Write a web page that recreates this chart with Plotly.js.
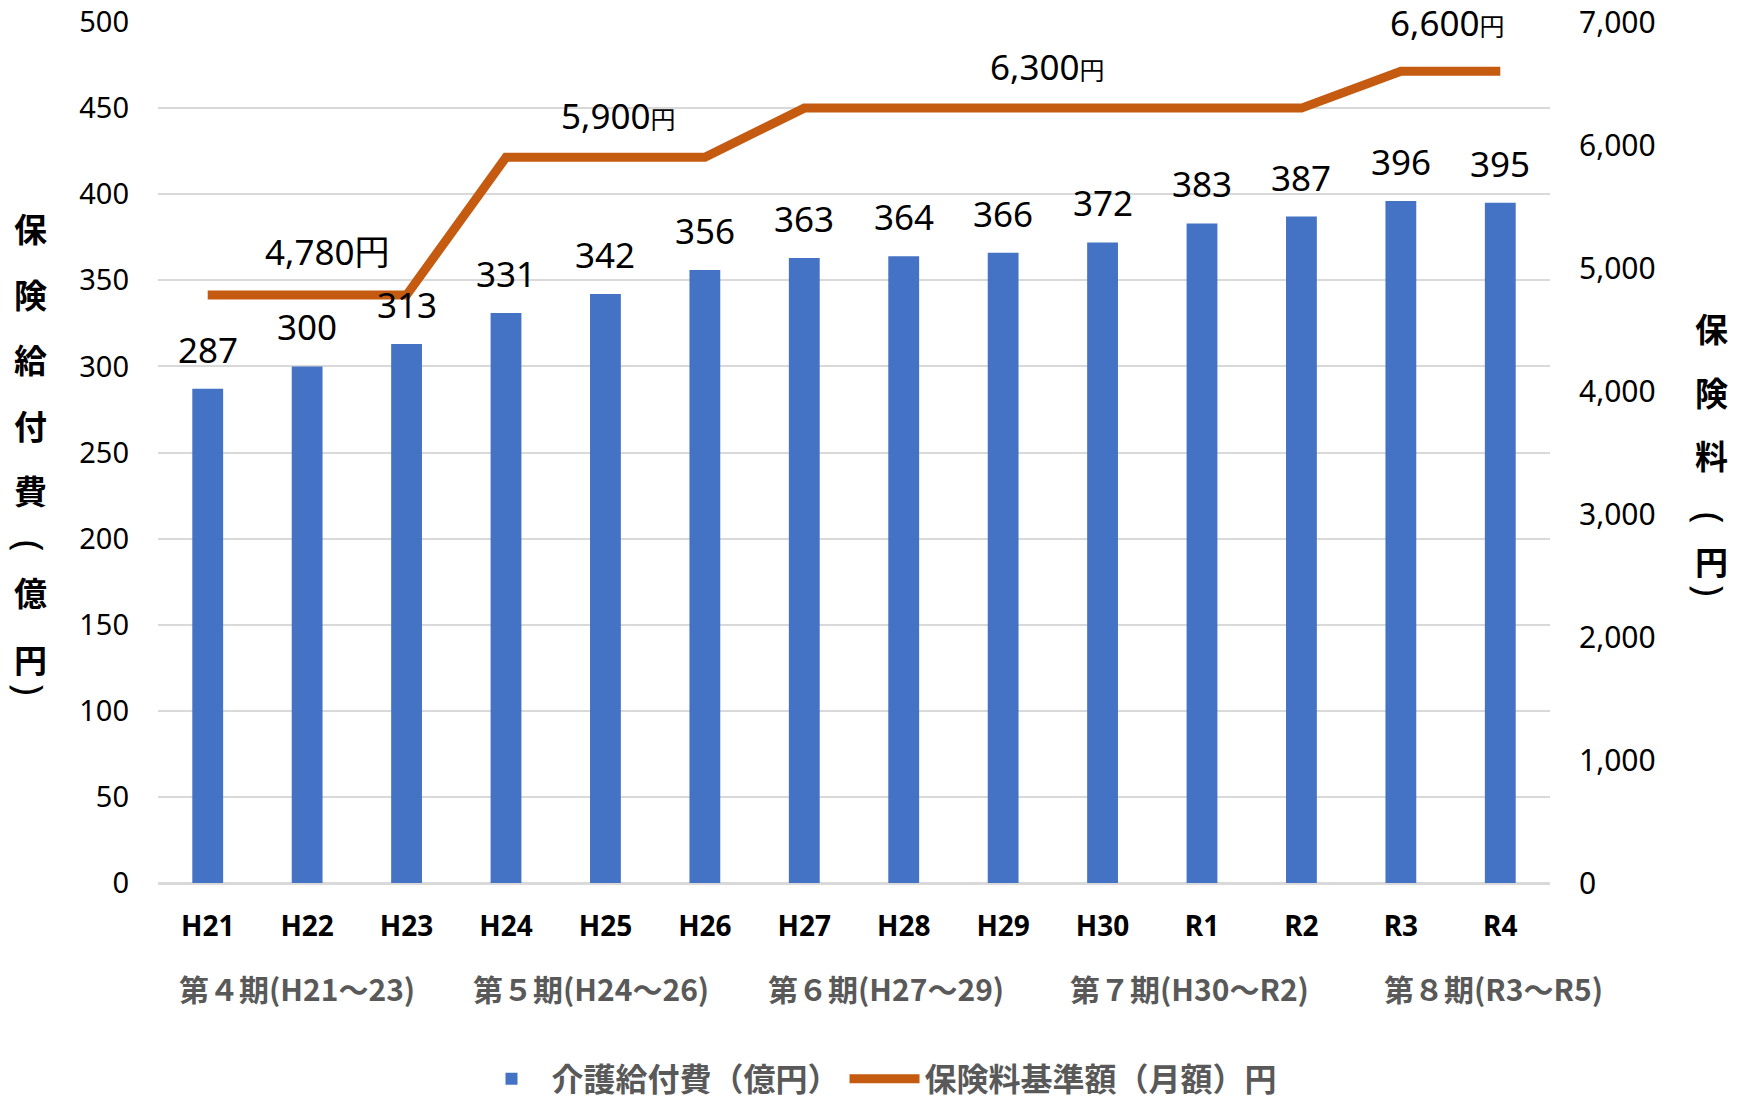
<!DOCTYPE html>
<html>
<head>
<meta charset="utf-8">
<script src="https://cdn.plot.ly/plotly-3.0.1.min.js"></script>
<style>html,body{margin:0;padding:0;background:#fff;}#chart{width:1742px;height:1107px;}</style>
</head>
<body>
<div id="chart"></div>
<script>
// ---- data ----
const categories = ['H21','H22','H23','H24','H25','H26','H27','H28','H29','H30','R1','R2','R3','R4'];
const benefitCost = [287,300,313,331,342,356,363,364,366,372,383,387,396,395];
const premium = [4780,4780,4780,5900,5900,5900,6300,6300,6300,6300,6300,6300,6600,6600];
const premiumLabelText = ['4,780','5,900','6,300','6,600'];
const premiumLabelValue = [4780,5900,6300,6600];
const periodLabels = ['第４期(H21～23)','第５期(H24～26)','第６期(H27～29)','第７期(H30～R2)','第８期(R3～R5)'];
const leftTitleChars = ['保','険','給','付','費','(','億','円',')'];
const rightTitleChars = ['保','険','料','(','円',')'];
const seriesNames = ['介護給付費（億円）','保険料基準額（月額）円'];

// ---- layout helpers (positions, not data) ----
const PL = 158, PR = 1550, PT = 22, PB = 883;
const px2x = p => (p - PL) / (PR - PL);
const py2y = p => (PB - p) / (PB - PT);
const FONT = 'Noto Sans, Noto Sans CJK JP, sans-serif';
const CJK = 'Noto Sans CJK JP, Noto Sans, sans-serif';

const premiumLabelIdx = [1.2, 4.13, 8.44, 12.46];
const premiumLabelShift = [18, 16, 16, 23];
const periodX = [297, 591, 886, 1189, 1493];
const leftTitleY = [228, 294, 359, 425, 490, 546, 592, 659, 690];
const rightTitleY = [328, 392, 455, 517, 561, 590];
const isParen = ch => ch === '(' || ch === ')';

const annotations = [];
// bar value labels
categories.forEach((c, i) => {
  annotations.push({x: c, y: benefitCost[i], xref: 'x', yref: 'y', text: String(benefitCost[i]),
    showarrow: false, yanchor: 'bottom', yshift: 14, font: {family: FONT, size: 35, color: '#000'}});
});
// premium labels
premiumLabelText.forEach((t, i) => {
  const small = i > 0;
  annotations.push({x: premiumLabelIdx[i], y: premiumLabelValue[i], xref: 'x', yref: 'y2',
    text: t + (small ? '<span style="font-size:25px">円</span>' : '円'),
    showarrow: false, yanchor: 'bottom', yshift: premiumLabelShift[i], font: {family: FONT, size: 35, color: '#000'}});
});
// period labels
periodLabels.forEach((t, i) => {
  annotations.push({x: px2x(periodX[i]), y: py2y(988), xref: 'paper', yref: 'paper', text: t,
    showarrow: false, xanchor: 'center', yanchor: 'middle',
    font: {family: CJK, size: 30, color: '#595959', weight: 'bold'}});
});
// axis titles (vertical, stacked)
function addVertical(chars, ys, px) {
  chars.forEach((ch, i) => {
    const p = isParen(ch);
    annotations.push({x: px2x(px), y: py2y(ys[i]), xref: 'paper', yref: 'paper', text: ch,
      showarrow: false, xanchor: 'center', yanchor: 'middle', textangle: p ? 90 : 0,
      font: {family: p ? 'Noto Sans, sans-serif' : CJK, size: p ? 38 : 33, color: '#000', weight: p ? 'normal' : 'bold'}});
  });
}
addVertical(leftTitleChars, leftTitleY, 31);
addVertical(rightTitleChars, rightTitleY, 1711);

const traces = [
  {type: 'bar', x: categories, y: benefitCost, name: seriesNames[0],
   marker: {color: '#4472C4'}, yaxis: 'y', hoverinfo: 'x+y'},
  {type: 'scatter', mode: 'lines', x: categories, y: premium, name: seriesNames[1],
   line: {color: '#C55A11', width: 9}, yaxis: 'y2'}
];

const layout = {
  width: 1742, height: 1107,
  margin: {l: PL, r: 1742 - PR, t: PT, b: 1107 - PB, pad: 0, autoexpand: false},
  paper_bgcolor: '#fff', plot_bgcolor: '#fff',
  font: {family: FONT, color: '#000'},
  bargap: 0.69,
  showlegend: true,
  legend: {orientation: 'h', x: px2x(877), y: py2y(1079), xanchor: 'center', yanchor: 'middle',
    font: {family: CJK, size: 32, color: '#595959', weight: 'bold'}, itemwidth: 70, traceorder: 'normal'},
  xaxis: {type: 'category', range: [-0.5, 13.5], showgrid: false, showline: false, zeroline: false,
    ticks: '', ticklabelstandoff: 24, tickfont: {family: FONT, size: 28, color: '#000', weight: 'bold'}, fixedrange: true},
  yaxis: {range: [0, 500], dtick: 50, tick0: 0, showgrid: true, gridcolor: '#D9D9D9', gridwidth: 2,
    zeroline: true, zerolinecolor: '#D9D9D9', zerolinewidth: 3, showline: false, ticks: '',
    ticklabelstandoff: 28, tickfont: {family: FONT, size: 29, color: '#000'}, fixedrange: true},
  yaxis2: {range: [0, 7000], dtick: 1000, tick0: 0, overlaying: 'y', side: 'right', showgrid: false,
    zeroline: false, showline: false, ticks: '', tickformat: ',d',
    ticklabelstandoff: 28, tickfont: {family: FONT, size: 30, color: '#000'}, fixedrange: true},
  annotations: annotations
};

Plotly.newPlot('chart', traces, layout, {displayModeBar: false, staticPlot: true});
</script>
</body>
</html>
